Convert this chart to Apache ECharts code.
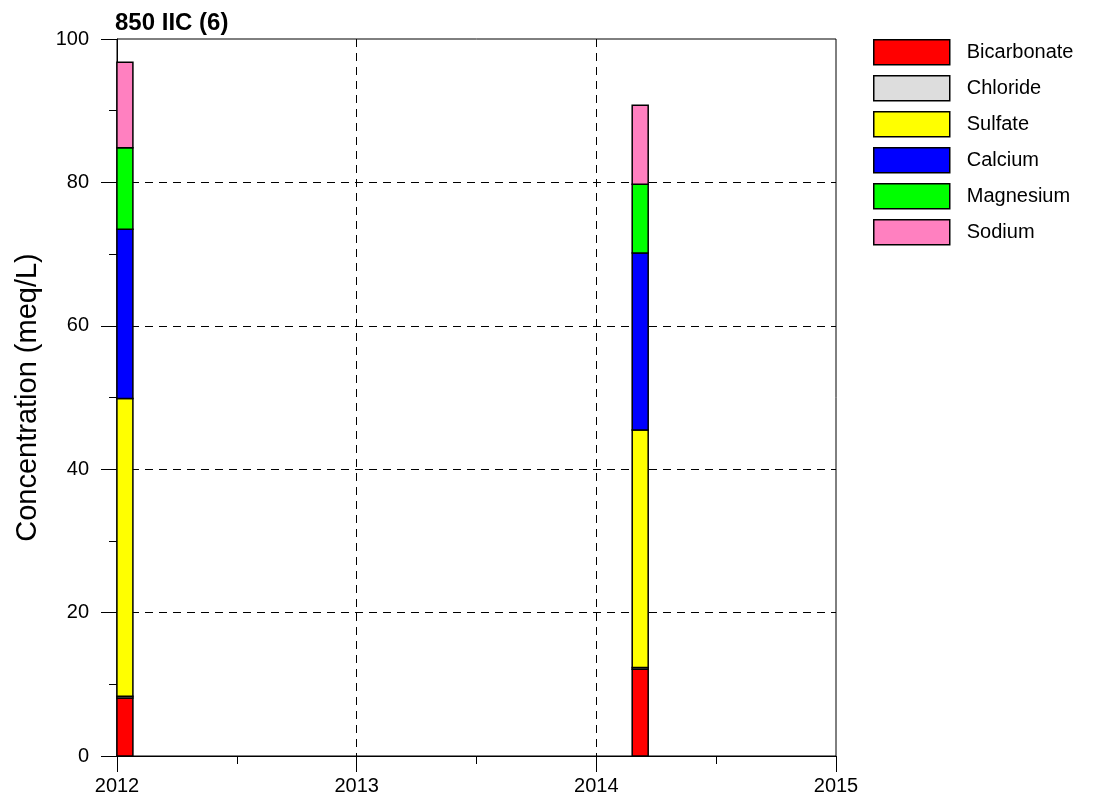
<!DOCTYPE html>
<html>
<head>
<meta charset="utf-8">
<script src="https://cdn.jsdelivr.net/npm/echarts@6/dist/echarts.min.js"></script>
<style>
html,body{margin:0;padding:0;background:#fff;}
#chart{width:1095px;height:804px;}
</style>
</head>
<body>
<div id="chart"></div>
<script>
// Sample dates as decimal years (bar centres)
const sampleYears = [2012.033, 2014.183];
const seriesNames = ['Bicarbonate', 'Chloride', 'Sulfate', 'Calcium', 'Magnesium', 'Sodium'];
const seriesColors = ['#ff0000', '#dddddd', '#ffff00', '#0000ff', '#00ff00', '#ff80c0'];
const bicarbonate = [8.1, 12.1];
const chloride = [0.25, 0.25];
const sulfate = [41.5, 33.1];
const calcium = [23.6, 24.7];
const magnesium = [11.4, 9.6];
const sodium = [11.9, 11.0];
const xTickYears = [2012, 2013, 2014, 2015];
const yTicks = [0, 20, 40, 60, 80, 100];

const values = [bicarbonate, chloride, sulfate, calcium, magnesium, sodium];
const FONT = '"Liberation Sans", Arial, sans-serif';
const BAR_W = 16;

const chart = echarts.init(document.getElementById('chart'), null, {renderer: 'canvas'});

// running stack bases per sample
const bases = sampleYears.map(() => 0);
const series = seriesNames.map((name, i) => {
  const data = sampleYears.map((x, j) => {
    const b = bases[j];
    const t = b + values[i][j];
    bases[j] = t;
    return [x, b, t];
  });
  return {
    name: name,
    type: 'custom',
    itemStyle: {color: seriesColors[i], borderColor: '#000', borderWidth: 1.5},
    encode: {x: 0, y: [1, 2]},
    data: data,
    renderItem: function (params, api) {
      const p0 = api.coord([api.value(0), api.value(1)]);
      const p1 = api.coord([api.value(0), api.value(2)]);
      return {
        type: 'rect',
        shape: {x: p0[0] - BAR_W / 2, y: p1[1], width: BAR_W, height: p0[1] - p1[1]},
        style: {fill: seriesColors[i], stroke: '#000', lineWidth: 1.5}
      };
    }
  };
});

chart.setOption({
  animation: false,
  backgroundColor: '#fff',
  title: {
    text: '850 IIC (6)',
    left: 115, top: 11,
    padding: 0,
    textStyle: {fontFamily: FONT, fontSize: 24, fontWeight: 'bold', color: '#000'}
  },
  legend: {
    orient: 'vertical',
    left: 873, top: 39,
    padding: 0,
    itemWidth: 76, itemHeight: 25, itemGap: 9.5,
    icon: 'rect',
    itemStyle: {borderColor: '#000', borderWidth: 1.5},
    textStyle: {fontFamily: FONT, fontSize: 20, color: '#000', padding: [0, 0, 0, 12]},
    data: seriesNames.map((n, i) => ({name: n, itemStyle: {color: seriesColors[i], borderColor: '#000', borderWidth: 1.5}}))
  },
  grid: {
    left: 117, right: 259, top: 39, bottom: 48,
    show: true, borderColor: '#000', borderWidth: 1, backgroundColor: 'transparent'
  },
  xAxis: {
    type: 'value',
    min: xTickYears[0], max: xTickYears[xTickYears.length - 1], interval: 1,
    axisLine: {show: true, lineStyle: {color: '#000', width: 1}},
    axisTick: {show: true, inside: false, length: 16, lineStyle: {color: '#000', width: 1}},
    minorTick: {show: true, splitNumber: 2, length: 8, lineStyle: {color: '#000', width: 1}},
    splitLine: {show: true, showMinLine: false, showMaxLine: false, lineStyle: {color: '#000', type: [8, 6], width: 1}},
    axisLabel: {
      margin: 20, fontFamily: FONT, fontSize: 20, color: '#000',
      formatter: v => String(v)
    }
  },
  yAxis: {
    type: 'value',
    min: yTicks[0], max: yTicks[yTicks.length - 1], interval: 20,
    name: 'Concentration (meq/L)',
    nameLocation: 'middle',
    nameGap: 75,
    nameTextStyle: {fontFamily: FONT, fontSize: 29, color: '#000'},
    axisLine: {show: true, lineStyle: {color: '#000', width: 1}},
    axisTick: {show: true, inside: false, length: 16, lineStyle: {color: '#000', width: 1}},
    minorTick: {show: true, splitNumber: 2, length: 8, lineStyle: {color: '#000', width: 1}},
    splitLine: {show: true, showMinLine: false, showMaxLine: false, lineStyle: {color: '#000', type: [8, 6], width: 1}},
    axisLabel: {margin: 28, fontFamily: FONT, fontSize: 20, color: '#000'}
  },
  series: series
});
</script>
</body>
</html>
